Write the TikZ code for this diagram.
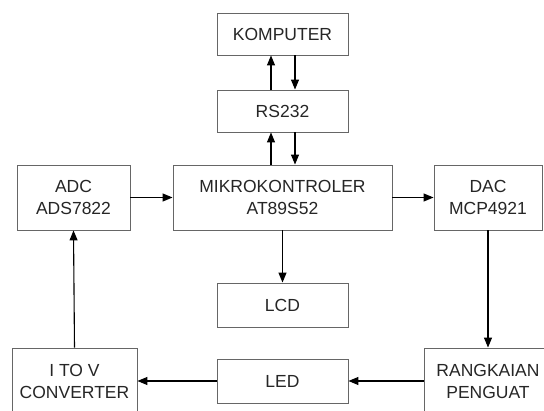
\documentclass[tikz,border=0pt]{standalone}
\usepackage{fontspec}
\setmainfont{Liberation Sans}
\usetikzlibrary{arrows.meta}
\begin{document}
\begin{tikzpicture}[x=1pt,y=-1pt,
  box/.style={draw=black!60, line width=0.9pt, fill=white, align=center, inner sep=0pt,
    font=\fontsize{17.5}{22}\selectfont, text=black!85},
  arr/.style={draw=black, line width=1.1pt, -{Triangle[length=10pt,width=8pt]}},
  ln/.style={draw=black, line width=1.1pt}]
\useasboundingbox (0,0) rectangle (544,411);
\clip (0,0) rectangle (544,411);
\fill[white] (0,0) rectangle (544,411);
\node[box, minimum width=131pt, minimum height=42pt] (komp) at (282.5,34) {KOMPUTER};
\node[box, minimum width=131pt, minimum height=42pt] (rs) at (282.5,111) {RS232};
\node[box, minimum width=219pt, minimum height=65pt] (mcu) at (282.5,197.5) {MIKROKONTROLER\\AT89S52};
\node[box, minimum width=113pt, minimum height=65pt] (adc) at (73.5,197.5) {ADC\\ADS7822};
\node[box, minimum width=108pt, minimum height=65pt] (dac) at (488,197.5) {DAC\\MCP4921};
\node[box, minimum width=131pt, minimum height=44pt] (lcd) at (282.5,305) {LCD};
\node[box, minimum width=131pt, minimum height=44pt] (led) at (282.5,381) {LED};
\node[box, minimum width=125pt, minimum height=66pt] (itov) at (74.5,381) {I TO V\\CONVERTER};
\node[box, minimum width=128pt, minimum height=66pt] (rp) at (488,381) {RANGKAIAN\\PENGUAT};
% RS232 <-> KOMPUTER
\draw[arr] ([xshift=-11.5pt]rs.north) -- ([xshift=-11.5pt]komp.south);
\draw[arr] ([xshift=12.5pt]komp.south) -- ([xshift=12.5pt]rs.north);
% MCU <-> RS232
\draw[arr] ([xshift=-11.5pt]mcu.north) -- ([xshift=-11.5pt]rs.south);
\draw[arr] ([xshift=12.5pt]rs.south) -- ([xshift=12.5pt]mcu.north);
\draw[arr] (adc.east) -- (mcu.west);
\draw[arr] (mcu.east) -- (dac.west);
\draw[arr] (mcu.south) -- (lcd.north);
\draw[arr] (dac.south) -- (rp.north);
\draw[arr] (rp.west) -- (led.east);
\draw[arr] (led.west) -- (itov.east);
\draw[arr] (itov.north) -- (adc.south);
\end{tikzpicture}
\end{document}
